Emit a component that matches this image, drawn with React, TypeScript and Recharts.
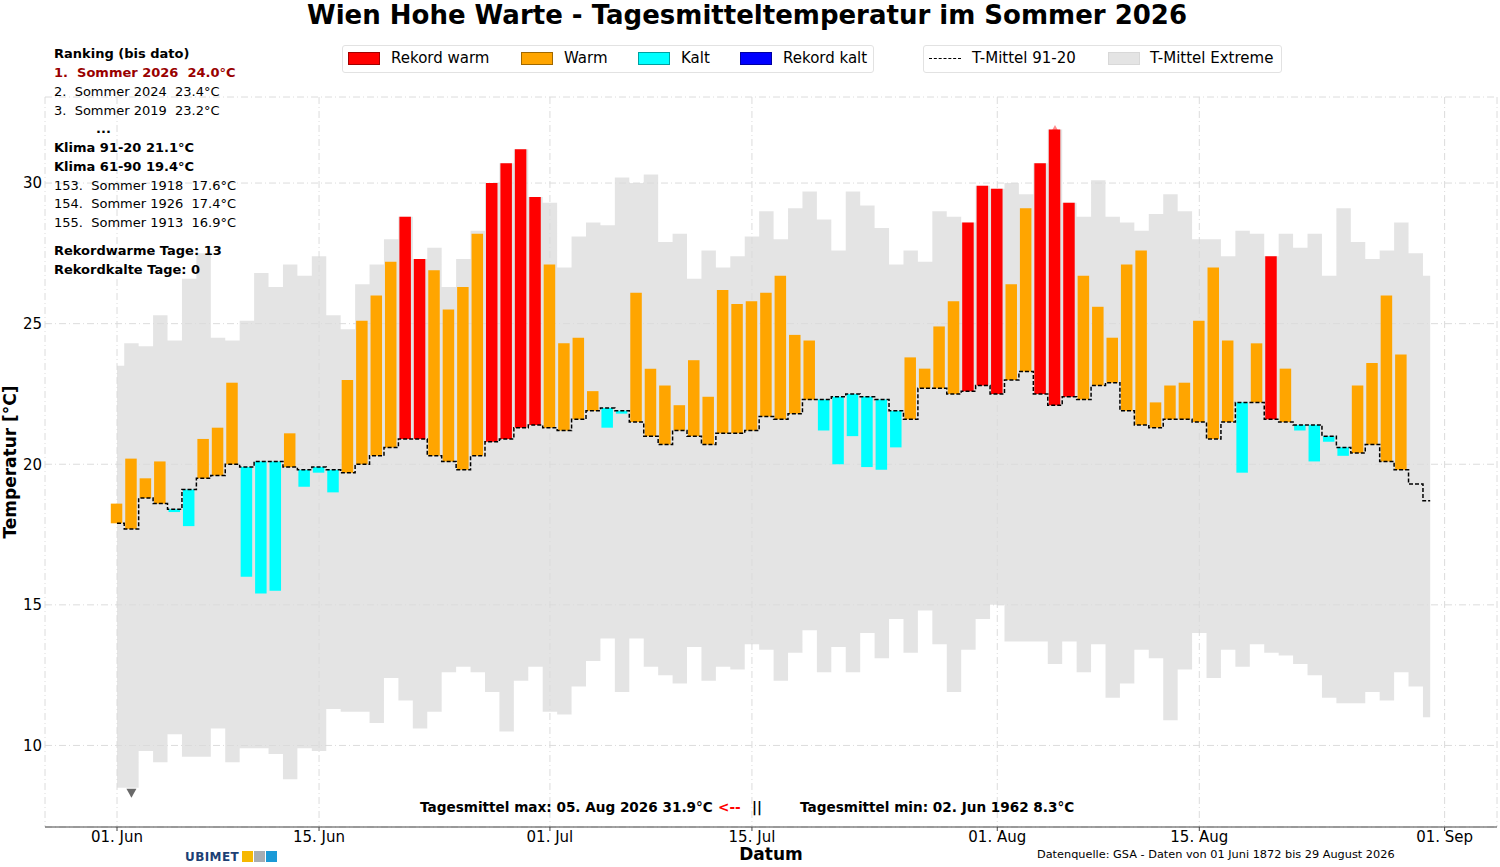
import {
  ComposedChart,
  Area,
  Bar,
  Line,
  Scatter,
  XAxis,
  YAxis,
  CartesianGrid,
  Cell,
} from 'recharts';

const FONT = '"DejaVu Sans", "Liberation Sans", sans-serif';

// Tag 0 = 01. Juni, Tag 91 = 31. August
const obs2026 = [
  18.6, 20.2, 19.5, 20.1, 18.3, 17.8, 20.9, 21.3, 22.9, 16.0,
  15.4, 15.5, 21.1, 19.2, 19.7, 19.0, 23.0, 25.1, 26.0, 27.2,
  28.8, 27.3, 26.9, 25.5, 26.3, 28.2, 30.0, 30.7, 31.2, 29.5,
  27.1, 24.3, 24.5, 22.6, 21.3, 21.8, 26.1, 23.4, 22.8, 22.1,
  23.7, 22.4, 26.2, 25.7, 25.8, 26.1, 26.7, 24.6, 24.4, 21.2,
  20.0, 21.0, 19.9, 19.8, 20.6, 23.8, 23.4, 24.9, 25.8, 28.6,
  29.9, 29.8, 26.4, 29.1, 30.7, 31.9, 29.3, 26.7, 25.6, 24.5,
  27.1, 27.6, 22.2, 22.8, 22.9, 25.1, 27.0, 24.4, 19.7, 24.3,
  27.4, 23.4, 21.2, 20.1, 20.8, 20.3, 22.8, 23.6, 26.0, 23.9,
];

const clim9120 = [
  17.9, 17.7, 18.8, 18.6, 18.4, 19.1, 19.5, 19.6, 20.0, 19.9,
  20.1, 20.1, 19.9, 19.8, 19.9, 19.8, 19.7, 20.0, 20.3, 20.6,
  20.9, 20.9, 20.3, 20.1, 19.8, 20.3, 20.8, 20.9, 21.3, 21.4,
  21.3, 21.2, 21.6, 21.9, 22.0, 21.9, 21.5, 21.0, 20.7, 21.2,
  21.0, 20.7, 21.1, 21.1, 21.2, 21.7, 21.6, 21.8, 22.3, 22.3,
  22.4, 22.5, 22.4, 22.3, 21.9, 21.6, 22.7, 22.7, 22.5, 22.6,
  22.8, 22.5, 23.0, 23.3, 22.5, 22.1, 22.4, 22.3, 22.8, 22.9,
  21.9, 21.4, 21.3, 21.6, 21.6, 21.5, 20.9, 21.5, 22.2, 22.2,
  21.6, 21.5, 21.4, 21.4, 21.0, 20.6, 20.4, 20.7, 20.1, 19.8,
  19.3, 18.7,
];

const extremeMax = [
  23.5, 24.3, 24.2, 25.3, 24.4, 26.6, 27.5, 24.5, 24.4, 25.1,
  26.8, 26.3, 27.1, 26.7, 27.4, 25.3, 24.8, 26.4, 27.1, 28.0,
  28.8, 27.3, 27.7, 26.3, 27.3, 28.3, 30.0, 30.7, 31.2, 29.5,
  29.3, 27.0, 28.1, 28.6, 28.5, 30.2, 30.0, 30.3, 27.9, 28.2,
  26.6, 27.6, 27.0, 27.4, 28.1, 29.0, 28.0, 29.1, 29.7, 28.7,
  27.6, 29.7, 29.2, 28.4, 27.1, 27.6, 27.2, 29.0, 28.8, 28.6,
  29.9, 29.8, 30.0, 29.6, 30.7, 31.9, 29.3, 28.8, 30.1, 28.8,
  28.6, 28.3, 28.9, 29.6, 29.0, 28.0, 28.0, 27.4, 28.3, 28.2,
  27.4, 28.2, 27.7, 28.2, 26.7, 29.1, 27.9, 27.3, 27.6, 28.6,
  27.5, 26.7,
];

const extremeMin = [
  8.5, 8.5, 9.8, 9.4, 10.4, 9.6, 9.6, 10.6, 9.4, 9.9,
  9.9, 9.7, 8.8, 9.9, 9.8, 11.3, 11.2, 11.2, 10.8, 12.4,
  11.6, 10.6, 11.2, 12.6, 12.8, 12.6, 11.9, 10.5, 12.3, 12.8,
  11.2, 11.1, 12.1, 13.0, 13.8, 11.9, 13.8, 12.8, 12.5, 12.2,
  13.5, 12.3, 12.8, 12.7, 13.6, 13.4, 12.3, 13.3, 14.1, 12.6,
  13.5, 12.6, 14.0, 13.1, 14.5, 13.3, 14.8, 13.6, 11.9, 13.4,
  14.5, 15.0, 13.7, 13.7, 13.7, 12.9, 13.7, 12.6, 13.6, 11.7,
  12.2, 13.4, 13.1, 10.9, 12.7, 14.0, 12.4, 13.4, 12.8, 13.6,
  13.3, 13.2, 12.9, 12.5, 11.7, 11.5, 11.5, 11.9, 11.6, 12.6,
  12.1, 11.0,
];

const tickDays = [0, 14, 30, 44, 61, 75, 92];
const tickLabels = ['01. Jun', '15. Jun', '01. Jul', '15. Jul', '01. Aug', '15. Aug', '01. Sep'];
const yTicks = [10, 15, 20, 25, 30];

const recordMax = [{ day: 65, value: 31.9 }];
const recordMin = [{ day: 1, value: 8.3 }];

const rankingLines = [
  { text: 'Ranking (bis dato)', bold: true, color: '#000', top: 54, left: 54 },
  { text: '1.  Sommer 2026  24.0°C', bold: true, color: '#990000', top: 73, left: 54 },
  { text: '2.  Sommer 2024  23.4°C', bold: false, color: '#000', top: 92, left: 54 },
  { text: '3.  Sommer 2019  23.2°C', bold: false, color: '#000', top: 111, left: 54 },
  { text: '...', bold: true, color: '#000', top: 129, left: 96 },
  { text: 'Klima 91-20 21.1°C', bold: true, color: '#000', top: 148, left: 54 },
  { text: 'Klima 61-90 19.4°C', bold: true, color: '#000', top: 167, left: 54 },
  { text: '153.  Sommer 1918  17.6°C', bold: false, color: '#000', top: 186, left: 54 },
  { text: '154.  Sommer 1926  17.4°C', bold: false, color: '#000', top: 204, left: 54 },
  { text: '155.  Sommer 1913  16.9°C', bold: false, color: '#000', top: 223, left: 54 },
  { text: 'Rekordwarme Tage: 13', bold: true, color: '#000', top: 251, left: 54 },
  { text: 'Rekordkalte Tage: 0', bold: true, color: '#000', top: 270, left: 54 },
];

const legendPatches = [
  { label: 'Rekord warm', fill: '#ff0000', edge: '#a00000', x: 348 },
  { label: 'Warm', fill: '#ffa500', edge: '#a06800', x: 521 },
  { label: 'Kalt', fill: '#00ffff', edge: '#00a0a0', x: 638 },
  { label: 'Rekord kalt', fill: '#0000ff', edge: '#0000a0', x: 740 },
];

function barColor(o: number, i: number) {
  if (o >= extremeMax[i]) return '#ff0000';
  if (o <= extremeMin[i]) return '#0000ff';
  return o >= clim9120[i] ? '#ffa500' : '#00ffff';
}

function TriangleUp(props: any) {
  const { cx, cy } = props;
  return (
    <path
      d={`M${cx - 5},${cy + 4.5} L${cx + 5},${cy + 4.5} L${cx},${cy - 4.5} Z`}
      fill="#ff0000"
      fillOpacity={0.45}
    />
  );
}

function TriangleDown(props: any) {
  const { cx, cy } = props;
  return (
    <path
      d={`M${cx - 5},${cy - 4.5} L${cx + 5},${cy - 4.5} L${cx},${cy + 4.5} Z`}
      fill="#696969"
    />
  );
}

export default function App() {
  const rows = clim9120.map((c, i) => {
    const o = i < obs2026.length ? obs2026[i] : null;
    return {
      day: i,
      clim: c,
      ext: [extremeMin[i], extremeMax[i]],
      bar: o === null ? null : [Math.min(o, c), Math.max(o, c)],
      obs: o,
    };
  });

  const abs = (left: number, top: number): React.CSSProperties => ({
    position: 'absolute',
    left,
    top,
    whiteSpace: 'pre',
  });

  return (
    <div
      style={{
        position: 'absolute',
        left: 0,
        top: 0,
        width: 1500,
        height: 867,
        background: '#fff',
        fontFamily: FONT,
        color: '#000',
        overflow: 'hidden',
      }}
    >
      <ComposedChart
        width={1500}
        height={867}
        data={rows}
        margin={{ top: 97, right: 3, bottom: 0, left: 0 }}
      >
        <CartesianGrid stroke="#dcdcdc" strokeDasharray="7 3 1 3" />
        <XAxis
          dataKey="day"
          type="number"
          domain={[-4.99, 95.63]}
          allowDataOverflow
          ticks={tickDays}
          interval={0}
          tickFormatter={(d) => tickLabels[tickDays.indexOf(d)]}
          height={40}
          tickSize={4}
          tickMargin={0}
          stroke="#444"
          tick={{ fill: '#000', fontSize: 15, fontFamily: FONT }}
        />
        <YAxis
          type="number"
          domain={[7.1, 33.06]}
          allowDataOverflow
          ticks={yTicks}
          interval={0}
          width={45}
          axisLine={false}
          tickLine={false}
          tickSize={0}
          tickMargin={3}
          tick={{ fill: '#000', fontSize: 15, fontFamily: FONT }}
        />
        <Area
          dataKey="ext"
          type="step"
          stroke="none"
          fill="#dadada"
          fillOpacity={0.72}
          isAnimationActive={false}
          activeDot={false}
        />
        <Scatter
          data={recordMax}
          dataKey="value"
          shape={<TriangleUp />}
          zIndex={250}
          isAnimationActive={false}
        />
        <Scatter
          data={recordMin}
          dataKey="value"
          shape={<TriangleDown />}
          isAnimationActive={false}
        />
        <Bar dataKey="bar" barSize={11.5} isAnimationActive={false}>
          {rows.map((r) => (
            <Cell key={r.day} fill={r.obs === null ? 'none' : barColor(r.obs, r.day)} />
          ))}
        </Bar>
        <Line
          dataKey="clim"
          type="step"
          stroke="#000"
          strokeWidth={1.5}
          strokeDasharray="4 2"
          dot={false}
          activeDot={false}
          isAnimationActive={false}
        />
      </ComposedChart>

      <div
        style={{
          ...abs(0, 0),
          width: 1494,
          textAlign: 'center',
          fontSize: 26,
          fontWeight: 'bold',
          lineHeight: '30px',
        }}
      >
        Wien Hohe Warte - Tagesmitteltemperatur im Sommer 2026
      </div>

      {rankingLines.map((l) => (
        <div
          key={l.top}
          style={{
            ...abs(l.left, l.top - 8),
            fontSize: 13,
            lineHeight: '16px',
            fontWeight: l.bold ? 'bold' : 'normal',
            color: l.color,
          }}
        >
          {l.text}
        </div>
      ))}

      <div
        style={{
          ...abs(342, 45),
          width: 530,
          height: 26,
          border: '1px solid #e2e2e2',
          borderRadius: 3,
          background: 'rgba(255,255,255,0.8)',
        }}
      />
      {legendPatches.map((p) => (
        <div key={p.label}>
          <div
            style={{
              ...abs(p.x, 52),
              width: 30,
              height: 11,
              background: p.fill,
              border: `1px solid ${p.edge}`,
            }}
          />
          <div style={{ ...abs(p.x + 43, 49), fontSize: 15, lineHeight: '18px' }}>{p.label}</div>
        </div>
      ))}

      <div
        style={{
          ...abs(923, 45),
          width: 357,
          height: 26,
          border: '1px solid #e2e2e2',
          borderRadius: 3,
          background: 'rgba(255,255,255,0.8)',
        }}
      />
      <div
        style={{
          ...abs(929, 58),
          width: 32,
          height: 0,
          borderTop: '1px dashed #000',
        }}
      />
      <div style={{ ...abs(972, 49), fontSize: 15, lineHeight: '18px' }}>T-Mittel 91-20</div>
      <div
        style={{
          ...abs(1108, 52),
          width: 30,
          height: 11,
          background: '#e4e4e4',
          border: '1px solid #d8d8d8',
        }}
      />
      <div style={{ ...abs(1150, 49), fontSize: 15, lineHeight: '18px' }}>T-Mittel Extreme</div>

      <div style={{ ...abs(420, 798), fontSize: 13.6, fontWeight: 'bold', lineHeight: '18px' }}>
        Tagesmittel max: 05. Aug 2026 31.9°C
      </div>
      <div
        style={{ ...abs(718, 798), fontSize: 13.6, fontWeight: 'bold', lineHeight: '18px', color: '#ff0000' }}
      >
        {'<--'}
      </div>
      <div style={{ ...abs(752, 798), fontSize: 13.6, fontWeight: 'bold', lineHeight: '18px' }}>||</div>
      <div style={{ ...abs(800, 798), fontSize: 13.6, fontWeight: 'bold', lineHeight: '18px' }}>
        Tagesmittel min: 02. Jun 1962 8.3°C
      </div>

      <div
        style={{
          ...abs(0, 844),
          width: 1542,
          textAlign: 'center',
          fontSize: 17,
          fontWeight: 'bold',
          lineHeight: '20px',
        }}
      >
        Datum
      </div>

      <div
        style={{
          position: 'absolute',
          left: 10,
          top: 462,
          transform: 'translate(-50%, -50%) rotate(-90deg)',
          fontSize: 17,
          fontWeight: 'bold',
          whiteSpace: 'pre',
          lineHeight: '20px',
        }}
      >
        Temperatur [°C]
      </div>

      <div style={{ ...abs(1037, 848), fontSize: 11.3, lineHeight: '14px' }}>
        Datenquelle: GSA - Daten von 01 Juni 1872 bis 29 August 2026
      </div>

      <div
        style={{
          ...abs(185, 850),
          fontSize: 12,
          fontWeight: 'bold',
          lineHeight: '14px',
          color: '#1d3f74',
          letterSpacing: 0.4,
        }}
      >
        UBIMET
      </div>
      <div style={{ ...abs(242, 851), width: 11, height: 11, background: '#f6b800' }} />
      <div style={{ ...abs(254, 851), width: 11, height: 11, background: '#a7adb3' }} />
      <div style={{ ...abs(266, 851), width: 11, height: 11, background: '#1b9ad7' }} />
    </div>
  );
}
